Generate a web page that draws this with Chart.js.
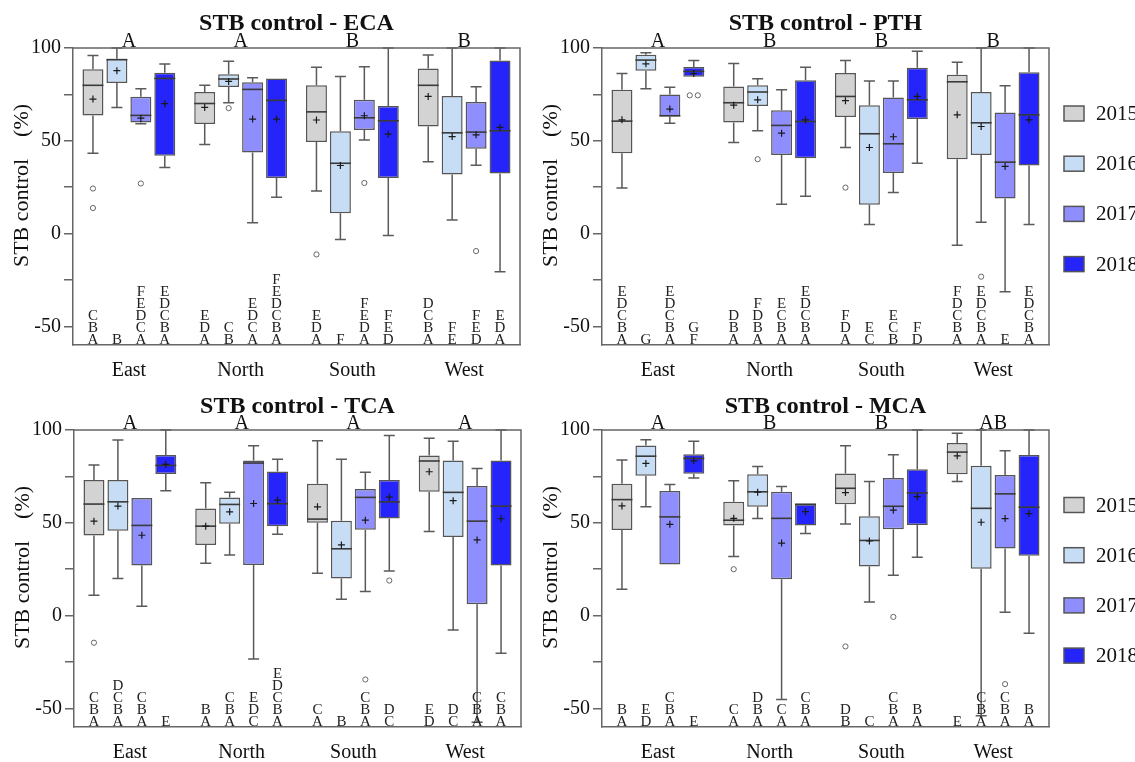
<!DOCTYPE html>
<html><head><meta charset="utf-8">
<script src="https://cdn.jsdelivr.net/npm/chart.js@4"></script>
<style>
html,body{margin:0;padding:0;background:#fff;overflow:hidden;width:1135px;height:762px;}
canvas{position:absolute;}
</style></head><body>
<canvas id="c1" width="529" height="381" style="left:0;top:0"></canvas>
<canvas id="c2" width="606" height="381" style="left:529px;top:0"></canvas>
<canvas id="c3" width="529" height="380" style="left:1px;top:382px"></canvas>
<canvas id="c4" width="606" height="380" style="left:529px;top:382px"></canvas>
<script>
// ---------------- DATA ----------------
const regions = ['East', 'North', 'South', 'West'];
const years = ['2015', '2016', '2017', '2018'];
const yTickValues = [-50, -25, 0, 25, 50, 75, 100];
const yTickLabels = ['-50', '', '0', '', '50', '', '100'];
const yAxisTitle = 'STB control    (%)';

// each array: [year][region]
// ECA
const ecaLow  = [[43.3, 48, 23, 38.7], [68, 70.5, -3.2, 7.4], [59.2, 5.8, 50.4, 36.9], [35.6, 19.6, -1, -20.5]];
const ecaQ1   = [[63.7, 59, 49.3, 57.7], [81.1, 79, 11, 31.8], [59.9, 43.7, 55.8, 45.7], [42, 29.9, 29.9, 32.4]];
const ecaMed  = [[79.9, 70.1, 65.6, 79.9], [93.7, 83.3, 37.9, 54.3], [63.7, 77.7, 62.4, 54.7], [83.6, 71.8, 60.8, 55.4]];
const ecaQ3   = [[88.5, 76.3, 79.9, 89], [94.2, 85.8, 55.2, 74.1], [73.7, 81.5, 72.1, 70.9], [86.7, 83.6, 68.7, 93.3]];
const ecaHigh = [[96, 79.9, 89.6, 96.2], [100, 92.8, 84.7, 100], [78, 84, 89.9, 79.1], [91.4, 83.6, 100, 100]];
const ecaMean = [[72.5, 68, 61.2, 73.9], [87.8, 82, 36.7, 52.3], [62.2, 61.7, 63.5, 53.2], [70, 61.7, 53.6, 57.2]];
const ecaOut  = [[[24.3, 13.8], [], [-11.2], []], [[], [67.6], [], []], [[27], [], [27.3], [-9.4]], [[], [], [], []]];
const ecaLetters = [['ABC', 'ADE', 'ADE', 'ABCD'], ['B', 'BC', 'F', 'EF'], ['ACDEF', 'ACDE', 'ADEF', 'DEF'], ['ABCDE', 'ABCDEF', 'DEF', 'ADE']];
const ecaGroup = ['A', 'A', 'B', 'B'];

// PTH
const pthLow  = [[24.6, 49.1, 46.4, -6.3], [78, 55.4, 4.9, 6.1], [59.5, 15.8, 22.1, -31.3], [84.5, 20.1, 37.9, 4.9]];
const pthQ1   = [[43.3, 59.9, 62.8, 40.1], [87.8, 68.7, 15.5, 42.4], [63.1, 42.4, 32.7, 18.9], [84.5, 40.6, 61.7, 36.7]];
const pthMed  = [[60.6, 70.5, 73.9, 81.8], [93.5, 76.3, 53.8, 59.7], [63.5, 58.3, 48.4, 38.5], [87.4, 60.4, 72.1, 64]];
const pthQ3   = [[77.5, 79.3, 86.5, 85.6], [96.4, 80, 69.1, 76.3], [75, 66.5, 73.4, 65.3], [89.7, 82.6, 89.4, 86.9]];
const pthHigh = [[86.3, 91.7, 93.3, 92.3], [97.5, 83.5, 82.2, 100], [78.8, 77.5, 82.2, 79.7], [93.3, 89.6, 98.2, 100]];
const pthMean = [[61.3, 69.2, 71.6, 64], [91.5, 72.1, 46.4, 57.7], [67.1, 54.1, 52.2, 36.2], [86.2, 61.3, 73.9, 61.3]];
const pthOut  = [[[], [], [24.8], []], [[], [40.1], [], [-23.2]], [[], [], [], []], [[74.5, 74.5], [], [], []]];
const pthLetters = [['ABCDE', 'ABD', 'ADF', 'ABCDF'], ['G', 'ABDF', 'CE', 'ABCDE'], ['ABCDE', 'ABCE', 'BCE', 'E'], ['FG', 'ABCDE', 'DF', 'ABCDE']];
const pthGroup = ['A', 'B', 'B', 'B'];

// TCA
const tcaLow  = [[11, 28.2, 22.8, 45.3], [20, 32.6, 8.8, -7.7], [5, -23.4, 13, -57.4], [67.3, 43.9, 24.1, -20.3]];
const tcaQ1   = [[43.2, 38, 50, 66.7], [45.7, 49.5, 20, 42.3], [27, 27.3, 46.2, 6.1], [76.3, 48.2, 52.3, 27]];
const tcaMed  = [[60.1, 48.2, 52, 83.3], [61.3, 59.9, 36, 66.4], [48.6, 82.2, 63.7, 50.9], [80.9, 60.3, 61.3, 59]];
const tcaQ3   = [[73, 57.7, 71, 86.3], [73, 63.7, 51.1, 83.6], [63.3, 83.6, 68.2, 69.8], [86.5, 77.7, 73, 83.6]];
const tcaHigh = [[81.1, 71.6, 94.2, 95.5], [94.6, 66.4, 84.2, 93.9], [63.3, 91.5, 77.3, 79.3], [100, 84.2, 97, 100]];
const tcaMean = [[50.9, 48.2, 58.6, 77.5], [59, 55.9, 38.1, 61.9], [43.3, 60.4, 51.4, 40.8], [81.5, 62.2, 63.8, 52.2]];
const tcaOut  = [[[-14.6], [], [], []], [[], [], [], []], [[], [], [-34.4], []], [[], [], [18.9], []]];
const tcaLetters = [['ABC', 'AB', 'AC', 'DE'], ['ABCD', 'ABC', 'B', 'CD'], ['ABC', 'CDE', 'ABC', 'ABC'], ['E', 'ABCDE', 'CD', 'ABC']];
const tcaGroup = ['A', 'A', 'A', 'A'];

// MCA
const mcaLow  = [[14.2, 31.9, 49.4, 72.3], [58.7, 52.3, 7.4, -54], [27.6, -45.2, 21.8, 1.8], [74.1, 44.3, 31.5, -9.5]];
const mcaQ1   = [[46.1, 48.5, 60, 76.2], [75.3, 58.7, 26.5, 25.2], [27.6, 19.6, 46.5, 36.2], [76.4, 48.5, 48.8, 32.3]];
const mcaMed  = [[62.5, 51.4, 68.6, 88.1], [85.9, 66.7, 40.5, 57.8], [53.2, 52.4, 58.9, 65.6], [84.7, 60, 66.1, 58.4]];
const mcaQ3   = [[71, 61.3, 76.6, 93], [91.7, 76.2, 53.5, 80.7], [67.2, 66.7, 74.2, 75.7], [87, 60, 78.9, 86.5]];
const mcaHigh = [[83.8, 72.6, 91.5, 98.2], [94.8, 80.4, 72.3, 100], [70.6, 69.5, 86.7, 88.8], [93.9, 60, 100, 100]];
const mcaMean = [[59.1, 52.4, 66.3, 86.1], [82, 66.5, 40.2, 50.3], [49.2, 39.1, 56.8, 52.3], [83.4, 56, 64.1, 55]];
const mcaOut  = [[[], [25], [-16.6], []], [[], [], [], []], [[], [], [-0.7], [-36.9]], [[], [], [], []]];
const mcaLetters = [['AB', 'AC', 'BD', 'E'], ['DE', 'ABD', 'C', 'ABC'], ['ABC', 'AC', 'ABC', 'ABC'], ['E', 'ABC', 'AB', 'AB']];
const mcaGroup = ['A', 'B', 'B', 'AB'];

// ---------------- STYLE ----------------
const yearColors = ['#d3d3d3', '#c7ddf6', '#8e8eff', '#2424fb'];
const SERIF = "'Liberation Serif', 'Times New Roman', serif";
const EDGE = '#555555';

function makeExtras(p) {
  return {
    id: 'boxExtras',
    beforeDatasetsDraw(chart) {
      const ctx = chart.ctx, ys = chart.scales.y;
      ctx.save();
      ctx.strokeStyle = '#5a5a5a';
      ctx.lineWidth = 1.5;
      chart.data.datasets.forEach((ds, i) => {
        chart.getDatasetMeta(i).data.forEach((bar, j) => {
          const x = bar.x;
          const pLow = ys.getPixelForValue(p.low[i][j]);
          const pHigh = ys.getPixelForValue(p.high[i][j]);
          const pQ1 = ys.getPixelForValue(p.q1[i][j]);
          const pQ3 = ys.getPixelForValue(p.q3[i][j]);
          ctx.beginPath();
          if (p.high[i][j] > p.q3[i][j]) {
            ctx.moveTo(x, pQ3); ctx.lineTo(x, pHigh);
            ctx.moveTo(x - 5.5, pHigh); ctx.lineTo(x + 5.5, pHigh);
          }
          if (p.low[i][j] < p.q1[i][j]) {
            ctx.moveTo(x, pQ1); ctx.lineTo(x, pLow);
            ctx.moveTo(x - 5.5, pLow); ctx.lineTo(x + 5.5, pLow);
          }
          ctx.stroke();
        });
      });
      ctx.restore();
    },
    afterDatasetsDraw(chart) {
      const ctx = chart.ctx, ys = chart.scales.y, xs = chart.scales.x, ca = chart.chartArea;
      ctx.save();
      chart.data.datasets.forEach((ds, i) => {
        chart.getDatasetMeta(i).data.forEach((bar, j) => {
          const x = bar.x, w = bar.width;
          // median
          const pm = ys.getPixelForValue(p.med[i][j]);
          ctx.strokeStyle = '#3a3a3a'; ctx.lineWidth = 1.6;
          ctx.beginPath(); ctx.moveTo(x - w / 2, pm); ctx.lineTo(x + w / 2, pm); ctx.stroke();
          // mean +
          const pmean = ys.getPixelForValue(p.mean[i][j]);
          ctx.strokeStyle = '#1a1a1a'; ctx.lineWidth = 1.2;
          ctx.beginPath();
          ctx.moveTo(x - 3.5, pmean); ctx.lineTo(x + 3.5, pmean);
          ctx.moveTo(x, pmean - 3.5); ctx.lineTo(x, pmean + 3.5);
          ctx.stroke();
          // outliers
          const outs = p.out[i][j];
          ctx.strokeStyle = '#666'; ctx.lineWidth = 1;
          outs.forEach((v, k) => {
            const dup = outs.filter(u => u === v).length;
            const idx = outs.slice(0, k).filter(u => u === v).length;
            const dx = dup > 1 ? (idx - (dup - 1) / 2) * 8 : 0;
            ctx.beginPath();
            ctx.arc(x + dx, ys.getPixelForValue(v), 2.6, 0, Math.PI * 2);
            ctx.fillStyle = '#fff'; ctx.fill(); ctx.stroke();
          });
          // letters (stacked from bottom)
          ctx.fillStyle = '#222';
          ctx.font = '15px ' + SERIF;
          ctx.textAlign = 'center'; ctx.textBaseline = 'alphabetic';
          const s = p.letters[i][j];
          for (let k = 0; k < s.length; k++) {
            ctx.fillText(s[k], x, ca.bottom - 1.5 - k * 12);
          }
        });
      });
      // group letters
      ctx.fillStyle = '#111';
      ctx.font = '20px ' + SERIF;
      ctx.textAlign = 'center'; ctx.textBaseline = 'alphabetic';
      p.group.forEach((g, j) => ctx.fillText(g, xs.getPixelForValue(j), ca.top - 1));
      // panel title centred over the plot area
      ctx.font = 'bold 24px ' + SERIF;
      ctx.fillText(p.title, (ca.left + ca.right) / 2, p.titleBaseline);
      // frame (top & right)
      ctx.strokeStyle = '#666'; ctx.lineWidth = 1.5;
      ctx.beginPath();
      ctx.moveTo(ca.left, ca.top); ctx.lineTo(ca.right, ca.top); ctx.lineTo(ca.right, ca.bottom);
      ctx.stroke();
      // legend
      if (p.legendTop != null) {
        chart.data.datasets.forEach((ds, i) => {
          const yc = p.legendTop + i * 50.2;
          const bx = ca.right + 15;
          ctx.fillStyle = ds.backgroundColor;
          ctx.fillRect(bx, yc - 7.5, 20, 15);
          ctx.strokeStyle = EDGE; ctx.lineWidth = 1.5;
          ctx.strokeRect(bx, yc - 7.5, 20, 15);
          ctx.fillStyle = '#111';
          ctx.font = '21px ' + SERIF;
          ctx.textAlign = 'left'; ctx.textBaseline = 'middle';
          ctx.fillText(ds.label, bx + 32, yc + 1);
        });
      }
      ctx.restore();
    }
  };
}

function makePanel(id, p, padRight, xAxisH) {
  const datasets = years.map((yr, i) => ({
    label: yr,
    data: regions.map((r, j) => [p.q1[i][j], p.q3[i][j]]),
    backgroundColor: yearColors[i],
    borderColor: EDGE,
    borderWidth: 1.5,
    borderSkipped: false,
    categoryPercentage: 0.857,
    barPercentage: 0.875
  }));
  new Chart(document.getElementById(id), {
    type: 'bar',
    data: { labels: regions, datasets },
    plugins: [makeExtras(p)],
    options: {
      responsive: false,
      animation: false,
      devicePixelRatio: 1,
      layout: { padding: { left: 0, right: padRight, top: 48, bottom: 0 } },
      plugins: {
        legend: { display: false },
        tooltip: { enabled: false },
        title: { display: false }
      },
      scales: {
        x: {
          type: 'category',
          grid: { display: false, drawTicks: false },
          border: { display: true, color: '#666', width: 1.5 },
          ticks: { color: '#111', font: { family: SERIF, size: 20 }, padding: 14 },
          afterFit: s => { s.height = xAxisH; }
        },
        y: {
          min: -60, max: 100,
          afterBuildTicks: s => { s.ticks = yTickValues.map(v => ({ value: v })); },
          ticks: {
            color: '#111', font: { family: SERIF, size: 20 }, padding: 3,
            callback: v => { const k = yTickValues.indexOf(v); return k >= 0 ? yTickLabels[k] : ''; }
          },
          grid: { drawOnChartArea: false, drawTicks: true, tickLength: 9, color: '#666', lineWidth: 1.5 },
          border: { display: true, color: '#666', width: 1.5 },
          title: {
            display: true, text: '    ' + yAxisTitle, color: '#111',
            font: { family: SERIF, size: 22 }, padding: { top: 9, bottom: 0 }
          },
          afterFit: s => { s.width = 73; }
        }
      }
    }
  });
}

makePanel('c1',
  { title: 'STB control - ECA', titleBaseline: 29.5, low: ecaLow, q1: ecaQ1, med: ecaMed, q3: ecaQ3, high: ecaHigh, mean: ecaMean, out: ecaOut, letters: ecaLetters, group: ecaGroup, legendTop: null },
  9, 36);
makePanel('c2',
  { title: 'STB control - PTH', titleBaseline: 29.5, low: pthLow, q1: pthQ1, med: pthMed, q3: pthQ3, high: pthHigh, mean: pthMean, out: pthOut, letters: pthLetters, group: pthGroup, legendTop: 113.5 },
  86, 36);
makePanel('c3',
  { title: 'STB control - TCA', titleBaseline: 31, low: tcaLow, q1: tcaQ1, med: tcaMed, q3: tcaQ3, high: tcaHigh, mean: tcaMean, out: tcaOut, letters: tcaLetters, group: tcaGroup, legendTop: null },
  9, 35);
makePanel('c4',
  { title: 'STB control - MCA', titleBaseline: 31, low: mcaLow, q1: mcaQ1, med: mcaMed, q3: mcaQ3, high: mcaHigh, mean: mcaMean, out: mcaOut, letters: mcaLetters, group: mcaGroup, legendTop: 123 },
  86, 35);
</script>
</body></html>
